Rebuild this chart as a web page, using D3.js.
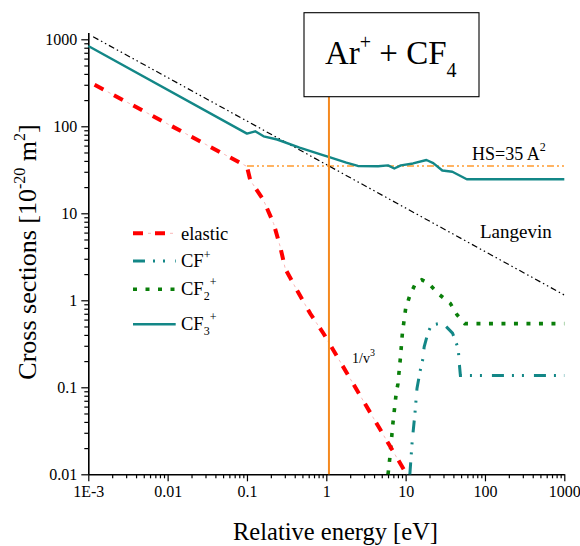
<!DOCTYPE html>
<html>
<head>
<meta charset="utf-8">
<script src="https://cdn.jsdelivr.net/npm/d3@7"></script>
<style>
  html, body { margin: 0; padding: 0; background: #fff; }
  svg { display: block; }
  text { font-family: "Liberation Serif", "Times New Roman", serif; fill: #000; }
</style>
</head>
<body>
<svg id="chart" width="580" height="546"></svg>
<script>
// Ar+ + CF4 cross sections vs relative energy (log-log)
const xTicksMajor = [0.001, 0.01, 0.1, 1, 10, 100, 1000];
const xTickLabels = ["1E-3", "0.01", "0.1", "1", "10", "100", "1000"];
const yTicksMajor = [0.01, 0.1, 1, 10, 100, 1000];
const yTickLabels = ["0.01", "0.1", "1", "10", "100", "1000"];

// [energy (eV), cross section (1e-20 m^2)]
const elastic = [[0.0012, 300], [0.1, 34.5], [0.11, 24], [0.162, 14.1], [0.217, 7.6],
  [0.263, 4.1], [0.304, 2.3], [0.428, 1.3], [0.63, 0.70], [0.93, 0.41], [10.3, 0.01]];
const cfPlus = [[11.3, 0.01], [12.1, 0.024], [13.1, 0.05], [13.9, 0.097], [15.3, 0.157],
  [16.6, 0.217], [17.1, 0.29], [19.2, 0.43], [21.2, 0.52], [29.1, 0.55], [39, 0.42],
  [46, 0.28], [47.5, 0.187], [49, 0.137], [1000, 0.137]];
const cf2Plus = [[6.0, 0.01], [6.3, 0.015], [6.9, 0.038], [7.6, 0.085], [8.0, 0.11],
  [8.6, 0.22], [9.1, 0.42], [10.0, 0.8], [11.3, 1.14], [13.4, 1.58], [16, 1.72],
  [19.2, 1.58], [26.4, 1.17], [36.6, 0.92], [44.6, 0.68], [55.7, 0.54], [1000, 0.54]];
const cf3Plus = [[0.001, 837], [0.1, 82.4], [0.127, 87.6], [0.162, 76.7], [0.24, 70.5],
  [0.46, 57], [0.906, 46.6], [1.07, 44.4], [1.79, 38.2], [2.5, 35], [4.5, 34.7],
  [6.0, 35.5], [7.2, 32.7], [8.7, 35.5], [12.4, 37.4], [18.3, 41], [22.3, 37.8],
  [29, 31], [38.8, 30], [59, 24.6], [1000, 24.6]];
const langevin = [[0.00115, 1070], [1000, 1.15]];
const hardSphere = [[0.1, 35], [1000, 35]];
const markerEnergy = 1.08;

const svg = d3.select("#chart");

const x = d3.scaleLog().domain([0.001, 1000]).range([88.3, 564.3]);
const y = d3.scaleLog().domain([0.01, 1200]).range([474.3, 32.4]);

const line = d3.line().x(d => x(d[0])).y(d => y(d[1]));

// minor ticks (2..9 within each decade)
const minorOf = (lo, hi) => {
  const out = [];
  for (let p = lo; p < hi; p++) for (let k = 2; k <= 9; k++) out.push(k * Math.pow(10, p));
  return out;
};
const xMinor = minorOf(-3, 3);
const yMinor = minorOf(-2, 3);

// axes
const gx = svg.append("g").attr("transform", `translate(0,${y(0.01)})`);
gx.call(d3.axisBottom(x).tickValues(xMinor).tickSize(4).tickFormat("").tickSizeOuter(0))
  .call(g => g.select(".domain").remove());
gx.append("g").call(d3.axisBottom(x).tickValues(xTicksMajor).tickSize(7).tickPadding(4.5)
    .tickSizeOuter(0).tickFormat((d, i) => xTickLabels[i]));

const gy = svg.append("g").attr("transform", `translate(${x(0.001)},0)`);
gy.call(d3.axisLeft(y).tickValues(yMinor).tickSize(4).tickFormat("").tickSizeOuter(0))
  .call(g => g.select(".domain").remove());
gy.append("g").call(d3.axisLeft(y).tickValues(yTicksMajor).tickSize(7).tickPadding(4)
    .tickSizeOuter(0).tickFormat((d, i) => yTickLabels[i]));

svg.selectAll(".domain").attr("stroke", "#000").attr("stroke-width", 1.6);
svg.selectAll(".tick line").attr("stroke", "#000").attr("stroke-width", 1.2);
svg.selectAll(".tick text").style("font-family", "'Liberation Serif', serif").attr("font-size", 16).attr("fill", "#000");

// reference lines
svg.append("path").datum(hardSphere).attr("d", line).attr("fill", "none")
  .attr("stroke", "#ff9a2e").attr("stroke-width", 1.4).attr("stroke-dasharray", "7,3,2,3,2,3");
svg.append("path").datum(langevin).attr("d", line).attr("fill", "none")
  .attr("stroke", "#000").attr("stroke-width", 1.2).attr("stroke-dasharray", "6,3,1.5,3,1.5,3");

// CF3+ (solid)
svg.append("path").datum(cf3Plus).attr("d", line).attr("fill", "none")
  .attr("stroke", "#138787").attr("stroke-width", 2.4).attr("stroke-linejoin", "round");

// CF2+ (dotted)
svg.append("path").datum(cf2Plus).attr("d", line).attr("fill", "none")
  .attr("stroke", "#0a7f0a").attr("stroke-width", 3.6).attr("stroke-dasharray", "4,8.5");

// CF+ (dash-dot-dot)
svg.append("path").datum(cfPlus).attr("d", line).attr("fill", "none")
  .attr("stroke", "#138787").attr("stroke-width", 3).attr("stroke-dasharray", "12,8,2,8,2,10");

// elastic (dash-dot: thick red dash, thin pale dot)
svg.append("path").datum(elastic).attr("d", line).attr("fill", "none")
  .attr("stroke", "#f9b8b8").attr("stroke-width", 1).attr("stroke-dasharray", "3,19").attr("stroke-dashoffset", 7);
svg.append("path").datum(elastic).attr("d", line).attr("fill", "none")
  .attr("stroke", "#ff0000").attr("stroke-width", 4).attr("stroke-dasharray", "10,12");

// title box with leader line
svg.append("line").attr("x1", x(markerEnergy)).attr("x2", x(markerEnergy))
  .attr("y1", 96.7).attr("y2", y(0.01)).attr("stroke", "#f5891f").attr("stroke-width", 2);
svg.append("rect").attr("x", 304).attr("y", 12.7).attr("width", 175).attr("height", 84)
  .attr("fill", "#fff").attr("stroke", "#000").attr("stroke-width", 1.1);
const title = svg.append("text").attr("x", 325).attr("y", 64).attr("font-size", 33);
title.append("tspan").text("Ar");
title.append("tspan").attr("font-size", 20).attr("dy", -15).text("+");
title.append("tspan").attr("dy", 15).text("\u00a0+ CF");
title.append("tspan").attr("font-size", 20).attr("dy", 13).text("4");

// annotations
const hs = svg.append("text").attr("x", 472).attr("y", 160).attr("font-size", 18);
hs.append("tspan").text("HS=35 A");
hs.append("tspan").attr("font-size", 12).attr("dy", -9).text("2");

svg.append("text").attr("x", 480).attr("y", 238).attr("font-size", 19).text("Langevin");

const v3 = svg.append("text").attr("x", 352).attr("y", 363).attr("font-size", 14);
v3.append("tspan").text("1/v");
v3.append("tspan").attr("font-size", 10).attr("dy", -7).text("3");

// legend
const lx1 = 133, lx2 = 175.7, tx = 181;
const leg = svg.append("g");
const legRow = (yl, styleFn) => styleFn(leg.append("line").attr("x1", lx1).attr("x2", lx2).attr("y1", yl).attr("y2", yl));
legRow(233.3, l => l.attr("stroke", "#f9b8b8").attr("stroke-width", 1).attr("stroke-dasharray", "3,19").attr("stroke-dashoffset", 7));
legRow(233.3, l => l.attr("stroke", "#ff0000").attr("stroke-width", 4).attr("stroke-dasharray", "10,12"));
legRow(261, l => l.attr("stroke", "#138787").attr("stroke-width", 3).attr("stroke-dasharray", "12,8,2,8,2,10"));
legRow(289.3, l => l.attr("stroke", "#0a7f0a").attr("stroke-width", 3.6).attr("stroke-dasharray", "4,8.5"));
legRow(324.3, l => l.attr("stroke", "#138787").attr("stroke-width", 2.4));

leg.append("text").attr("x", tx).attr("y", 239.5).attr("font-size", 18.5).text("elastic");
const t1 = leg.append("text").attr("x", tx).attr("y", 267).attr("font-size", 18.5);
t1.append("tspan").text("CF");
t1.append("tspan").attr("font-size", 12).attr("dy", -8).text("+");
const t2 = leg.append("text").attr("x", tx).attr("y", 295).attr("font-size", 18.5);
t2.append("tspan").text("CF");
t2.append("tspan").attr("font-size", 12).attr("dy", 5).text("2");
t2.append("tspan").attr("font-size", 12).attr("dy", -14).text("+");
const t3 = leg.append("text").attr("x", tx).attr("y", 330).attr("font-size", 18.5);
t3.append("tspan").text("CF");
t3.append("tspan").attr("font-size", 12).attr("dy", 5).text("3");
t3.append("tspan").attr("font-size", 12).attr("dy", -14).text("+");

// axis titles
svg.append("text").attr("x", 335.5).attr("y", 540).attr("text-anchor", "middle")
  .attr("font-size", 24.5).text("Relative energy [eV]");
const yt = svg.append("text").attr("transform", "translate(36,252) rotate(-90)")
  .attr("text-anchor", "middle").attr("font-size", 26);
yt.append("tspan").text("Cross sections [10");
yt.append("tspan").attr("font-size", 16).attr("dy", -11).text("-20");
yt.append("tspan").attr("dy", 11).text(" m");
yt.append("tspan").attr("font-size", 16).attr("dy", -11).text("2");
yt.append("tspan").attr("dy", 11).text("]");
</script>
</body>
</html>
